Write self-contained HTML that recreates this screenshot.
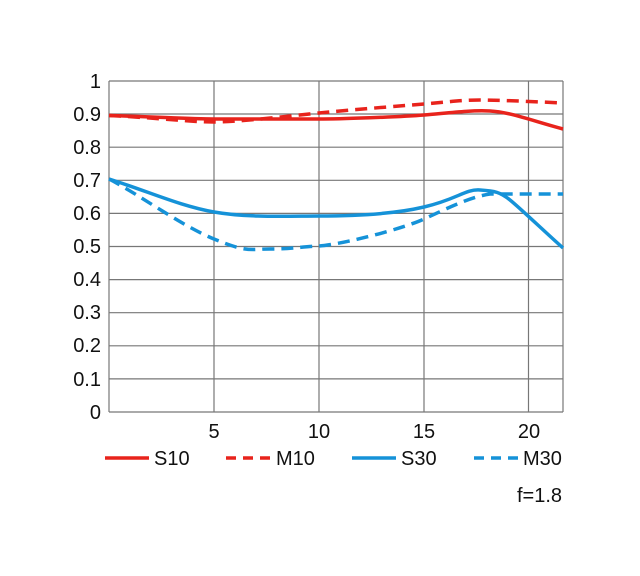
<!DOCTYPE html>
<html><head><style>body{margin:0;background:#fff}svg{display:block}</style></head>
<body>
<svg width="640" height="576" xmlns="http://www.w3.org/2000/svg" font-family="Liberation Sans, sans-serif" font-size="20" fill="#111">
<g stroke="#777" stroke-width="1.2">
<line x1="109" y1="81" x2="563" y2="81"/><line x1="109" y1="114" x2="563" y2="114"/><line x1="109" y1="147.2" x2="563" y2="147.2"/><line x1="109" y1="180.3" x2="563" y2="180.3"/><line x1="109" y1="213.4" x2="563" y2="213.4"/><line x1="109" y1="246.5" x2="563" y2="246.5"/><line x1="109" y1="279.6" x2="563" y2="279.6"/><line x1="109" y1="312.7" x2="563" y2="312.7"/><line x1="109" y1="345.8" x2="563" y2="345.8"/><line x1="109" y1="378.9" x2="563" y2="378.9"/><line x1="109" y1="412" x2="563" y2="412"/>
<line x1="109" y1="81" x2="109" y2="412"/><line x1="214" y1="81" x2="214" y2="412"/><line x1="319" y1="81" x2="319" y2="412"/><line x1="424" y1="81" x2="424" y2="412"/><line x1="528.5" y1="81" x2="528.5" y2="412"/><line x1="563" y1="81" x2="563" y2="412"/>
</g>
<g text-anchor="end">
<text x="101" y="88">1</text><text x="101" y="121">0.9</text><text x="101" y="154">0.8</text><text x="101" y="187">0.7</text><text x="101" y="220">0.6</text><text x="101" y="253">0.5</text><text x="101" y="286">0.4</text><text x="101" y="319">0.3</text><text x="101" y="352">0.2</text><text x="101" y="386">0.1</text><text x="101" y="419">0</text>
</g>
<g text-anchor="middle">
<text x="214" y="438">5</text><text x="319" y="438">10</text><text x="424" y="438">15</text><text x="529" y="438">20</text>
</g>
<g fill="none" stroke-width="3.5">
<path d="M109,115.5 C160,117 190,119 214,119 S300,119 319,119 S400,117 424,115 S470,110 490,111 S530,120 563,129" stroke="#e8231c"/>
<path d="M109,115.5 C160,118 190,122 214,122 S290,116 319,113 S400,106 424,104 S460,100 480,100 S540,102 563,103" stroke="#e8231c" stroke-dasharray="12,7"/>
<path d="M109,179 C150,192 180,206 214,212 S290,216 319,216 S390,215 424,207 S465,189 480,190 S500,192 510,200 S545,232 563,248" stroke="#1592d8"/>
<path d="M109,179 C140,195 180,225 214,239 S250,249 270,249 S300,247 319,246 S400,230 424,219 S470,197 490,194 L563,194" stroke="#1592d8" stroke-dasharray="12,7"/>
</g>
<g stroke-width="3.5">
<line x1="105" y1="458" x2="149" y2="458" stroke="#e8231c"/>
<line x1="226" y1="458" x2="270" y2="458" stroke="#e8231c" stroke-dasharray="10,7"/>
<line x1="352" y1="458" x2="396" y2="458" stroke="#1592d8"/>
<line x1="474" y1="458" x2="518" y2="458" stroke="#1592d8" stroke-dasharray="10,7"/>
</g>
<text x="154" y="465">S10</text><text x="276" y="465">M10</text><text x="401" y="465">S30</text><text x="523" y="465">M30</text>
<text x="562" y="502" text-anchor="end">f=1.8</text>
</svg>
</body></html>
